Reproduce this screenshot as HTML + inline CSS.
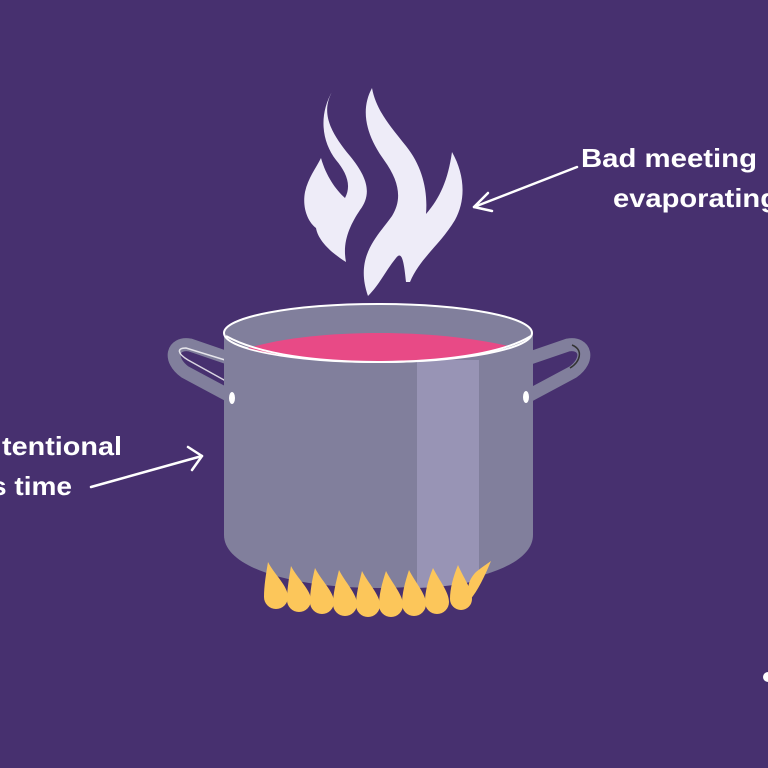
<!DOCTYPE html>
<html><head><style>html,body{margin:0;padding:0;background:#47306f;}svg{display:block}</style></head>
<body>
<svg width="768" height="768" viewBox="0 0 768 768" xmlns="http://www.w3.org/2000/svg">
<rect width="768" height="768" fill="#47306f"/>
<!-- steam -->
<g fill="#eeecf8">
<path d="M333,90 C320,112 330,132 350,156 C368,178 372,194 360,210 C350,225 342,242 346,262 C330,252 318,240 316,228 C308,222 302,208 305,192 C308,178 316,168 321,158 C326,176 336,190 345,198 C352,185 346,172 336,160 C322,142 318,115 333,90 Z"/>
<path d="M372,88 C360,110 366,135 384,160 C400,182 402,200 392,216 C378,236 354,256 368,296 C380,284 386,270 396,258 C402,250 404,262 406,282 L410,282 C420,258 440,245 455,220 C466,200 465,175 452,152 C448,180 440,198 426,214 C428,190 422,166 406,146 C390,126 376,110 372,88 Z"/>
</g>
<!-- handles -->
<path d="M228,358 L190,345 C172,342 168,360 185,372 L228,395" fill="none" stroke="#817f9c" stroke-width="13" stroke-linecap="round"/>
<path d="M230,398 C236,392 236,385 224,380 L188,360 C178,354 176,348 186,348 L225,360" fill="none" stroke="#ffffff" stroke-width="1.5" opacity="0.8"/>
<path d="M530,358 L568,345 C586,342 590,360 573,372 L530,395" fill="none" stroke="#817f9c" stroke-width="13" stroke-linecap="round"/>
<path d="M572,345 C584,350 580,362 570,368" fill="none" stroke="#333" stroke-width="1.5"/>
<!-- pot body -->
<path d="M224,333 L224,535 C224,570 300,588 378,588 C456,588 533,570 533,535 L533,333 Z" fill="#817f9c"/>
<path d="M417,360 L479,360 L479,580 C460,585 440,587 417,588 Z" fill="#9894b5"/>
<ellipse cx="378" cy="333" rx="154" ry="29" fill="#817f9c" stroke="#fff" stroke-width="2"/>
<path d="M248,348 C290,336 340,333 380,333 C420,333 470,337 508,346 C470,358 420,361 378,361 C330,361 285,358 248,348 Z" fill="#e84a86"/>
<path d="M226,336 C260,355 320,362 378,362 C436,362 500,355 531,336" fill="none" stroke="#fff" stroke-width="2"/>
<ellipse cx="232" cy="398" rx="3" ry="6" fill="#fff"/>
<ellipse cx="526" cy="397" rx="3" ry="6" fill="#fff"/>
<!-- flames -->
<g fill="#fcc65a">
<path d="M268,562 C274,574 288,586 288,597 A12,12 0 0 1 264,597 C264,586 266,574 268,562 Z"/>
<path d="M291,566 C297,578 311,590 311,600 A12,12 0 0 1 287,600 C287,590 289,578 291,566 Z"/>
<path d="M315,568 C321,580 334,592 334,602 A12,12 0 0 1 310,602 C310,592 312,580 315,568 Z"/>
<path d="M339,570 C345,582 357,594 357,604 A12,12 0 0 1 333,604 C333,594 336,582 339,570 Z"/>
<path d="M362,571 C368,583 380,595 380,605 A12,12 0 0 1 356,605 C356,595 359,583 362,571 Z"/>
<path d="M386,571 C392,583 403,595 403,605 A12,12 0 0 1 379,605 C379,595 382,583 386,571 Z"/>
<path d="M409,570 C415,582 426,594 426,604 A12,12 0 0 1 402,604 C402,594 405,582 409,570 Z"/>
<path d="M433,568 C439,580 449,592 449,602 A12,12 0 0 1 425,602 C425,592 428,580 433,568 Z"/>
<path d="M458,565 C463,577 472,589 472,599 A11,11 0 0 1 450,599 C450,589 453,577 458,565 Z"/>
<path d="M491,561 C484,578 478,590 470,600 C466,590 468,580 476,572 C482,567 487,564 491,561 Z"/>
</g>
<!-- arrows -->
<g fill="none" stroke="#fff" stroke-width="2.5" stroke-linecap="round" stroke-linejoin="round">
<path d="M577,167 L474,207"/><path d="M488,193 L474,207 L492,211"/>
<path d="M91,487 L202,456"/><path d="M188,447 L202,456 L192,470"/>
</g>
<g fill="#fff" font-family="Liberation Sans, sans-serif" font-weight="bold" font-size="26">
<text x="581" y="167" textLength="176" lengthAdjust="spacingAndGlyphs">Bad meeting</text>
<text x="613" y="207" textLength="165" lengthAdjust="spacingAndGlyphs">evaporating</text>
<text x="2" y="455" textLength="120" lengthAdjust="spacingAndGlyphs">tentional</text>
<text x="-9" y="495" textLength="81" lengthAdjust="spacingAndGlyphs">s time</text>
</g>
<circle cx="768" cy="677" r="5" fill="#fff"/>
</svg>
</body></html>
